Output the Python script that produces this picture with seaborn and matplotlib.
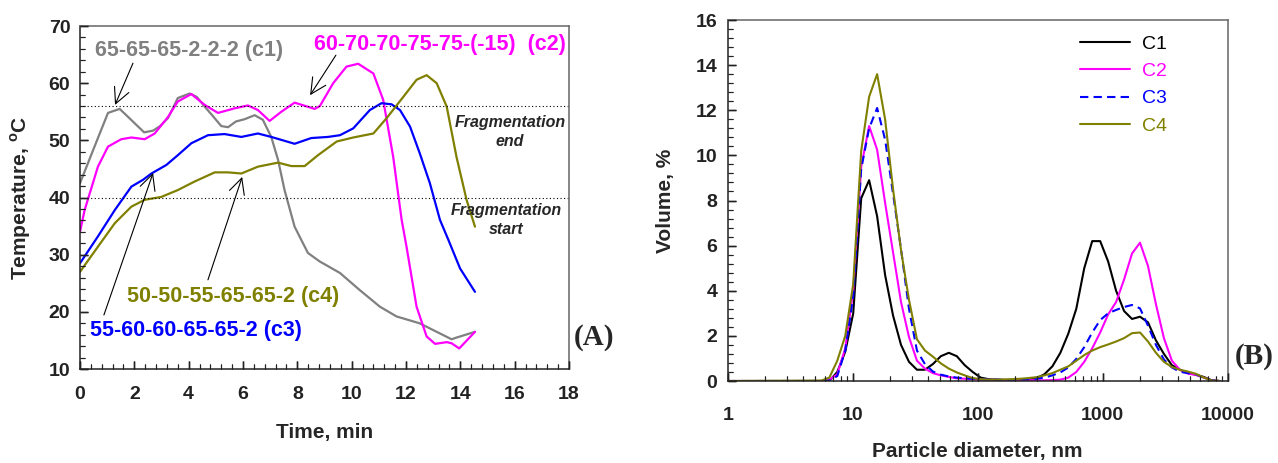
import matplotlib
matplotlib.use('Agg')
import matplotlib.pyplot as plt
from matplotlib.ticker import MultipleLocator, LogLocator, NullFormatter
import seaborn as sns

sns.set_style('ticks')
plt.rcParams['font.family'] = ['Liberation Sans', 'DejaVu Sans']
plt.rcParams['font.weight'] = 'bold'
plt.rcParams['mathtext.fontset'] = 'custom'
plt.rcParams['mathtext.rm'] = 'Liberation Sans:bold'
plt.rcParams['mathtext.bf'] = 'Liberation Sans:bold'
for a in ('xtick', 'ytick'):
    plt.rcParams[f'{a}.direction'] = 'in'
    plt.rcParams[f'{a}.major.size'] = 6
    plt.rcParams[f'{a}.major.width'] = 1
    plt.rcParams[f'{a}.minor.size'] = 3.5
    plt.rcParams[f'{a}.minor.width'] = 0.8
    plt.rcParams[f'{a}.color'] = '#222222'
    plt.rcParams[f'{a}.labelsize'] = 14
plt.rcParams['axes.linewidth'] = 1.1
plt.rcParams['axes.edgecolor'] = '#222222'
plt.rc('lines', linewidth=1.6)

# ---- panel A: temperature profiles ----
t_c1 = [0, 0.5, 1.03, 1.46, 1.77, 2.36, 2.69, 2.95, 3.24, 3.6, 4.04, 4.3, 4.59, 4.9, 5.2, 5.45,
        5.74, 6.06, 6.43, 6.73, 7.04, 7.29, 7.53, 7.9, 8.39, 8.83, 9.57, 10.3, 11.04, 11.65,
        12.5, 13.68, 13.86, 14.54]
T_c1 = [42.5, 48.5, 54.8, 55.5, 54.1, 51.4, 51.7, 52.5, 53.9, 57.4, 58.2, 57.6, 55.9, 54.2, 52.5,
        52.3, 53.3, 53.7, 54.4, 53.6, 50.6, 46.6, 41.3, 34.9, 30.3, 28.8, 26.8, 23.8, 20.9, 19.2,
        18.0, 15.2, 15.5, 16.5]

t_c2 = [0, 0.17, 0.66, 1.03, 1.52, 1.89, 2.38, 2.75, 3.24, 3.6, 4.1, 4.59, 5.08, 5.69, 6.18,
        6.55, 6.98, 7.41, 7.9, 8.64, 8.83, 9.32, 9.81, 10.24, 10.8, 11.16, 11.53, 11.84, 12.02,
        12.39, 12.76, 13.07, 13.5, 13.68, 13.96, 14.54]
T_c2 = [34, 37.8, 45.4, 48.9, 50.2, 50.5, 50.2, 51.2, 54.1, 56.8, 58.1, 56.2, 54.8, 55.6, 56.1,
        55.3, 53.4, 55, 56.6, 55.5, 56.0, 60.0, 62.9, 63.4, 61.7, 57.1, 47.1, 36.1, 31.4,
        20.9, 15.7, 14.4, 14.7, 14.5, 13.6, 16.5]

t_c3 = [0, 0.66, 1.28, 1.89, 2.32, 2.63, 3.18, 3.6, 4.1, 4.71, 5.32, 5.94, 6.55, 7.04, 7.9,
        8.51, 9.13, 9.57, 10.06, 10.67, 11.1, 11.47, 11.78, 12.15, 12.51, 12.88, 13.25, 13.56,
        13.99, 14.54]
T_c3 = [28.5, 33.2, 37.8, 41.9, 43.1, 44.2, 45.7, 47.4, 49.5, 50.9, 51.1, 50.6, 51.2, 50.6, 49.4,
        50.4, 50.6, 50.9, 52.1, 55.3, 56.5, 56.3, 55.3, 52.4, 47.7, 42.5, 36.1, 32.6,
        27.6, 23.5]

t_c4 = [0, 0.66, 1.28, 1.89, 2.38, 2.99, 3.6, 4.22, 4.96, 5.45, 5.94, 6.55, 7.29, 7.78, 8.27,
        8.76, 9.45, 10.06, 10.8, 11.29, 11.9, 12.39, 12.76, 13.13, 13.5, 13.86, 14.23, 14.54]
T_c4 = [27, 31.4, 35.5, 38.4, 39.6, 40.1, 41.3, 42.8, 44.4, 44.4, 44.2, 45.4, 46.1, 45.5, 45.5,
        47.4, 49.8, 50.5, 51.2, 53.9, 57.6, 60.6, 61.4, 60.0, 55.9, 47.1, 39.6, 34.9]

frag_end = 56
frag_start = 40

# ---- panel B: particle size distributions ----
diam = [1, 5.615, 6.503, 7.531, 8.721, 10.1, 11.7, 13.54, 15.69, 18.17, 21.04, 24.36, 28.21,
        32.67, 37.84, 43.82, 50.75, 58.77, 68.06, 78.82, 91.28, 105.7, 122.4, 141.8, 164.2,
        190.1, 220.2, 255.0, 295.3, 342.0, 396.1, 458.7, 531.2, 615.1, 712.4, 825.0, 955.4,
        1106, 1281, 1484, 1718, 1990, 2305, 2669, 3091, 3580, 4145, 4801, 5560, 6439, 7456, 8635]
vol_c1 = [0, 0, 0, 0.4, 1.3, 3.0, 8.1, 8.9, 7.3, 4.7, 2.9, 1.6, 0.85,
          0.5, 0.5, 0.75, 1.1, 1.25, 1.1, 0.7, 0.4, 0.15, 0.08, 0.06, 0.05,
          0.05, 0.05, 0.07, 0.12, 0.3, 0.65, 1.25, 2.1, 3.2, 5.0, 6.2, 6.2,
          5.3, 4.0, 3.1, 2.75, 2.85, 2.6, 1.8, 1.2, 0.7, 0.5, 0.35, 0.28, 0.18, 0.03, 0]
vol_c2 = [0, 0, 0.05, 0.3, 1.45, 4.0, 9.5, 11.3, 10.25, 7.9, 5.7, 3.5, 1.95,
          0.9, 0.55, 0.35, 0.25, 0.18, 0.12, 0.1, 0.08, 0.06, 0.05, 0.05, 0.04,
          0.04, 0.04, 0.04, 0.03, 0.03, 0.04, 0.06, 0.15, 0.4, 0.85, 1.45, 2.15,
          2.95, 3.5, 4.5, 5.65, 6.13, 5.1, 3.4, 1.9, 0.9, 0.5, 0.33, 0.27, 0.15, 0.02, 0]
vol_c3 = [0, 0, 0.02, 0.22, 1.35, 3.75, 9.4, 11.2, 12.1, 10.7, 8.3, 5.85, 3.2,
          1.35, 0.75, 0.42, 0.28, 0.2, 0.15, 0.12, 0.1, 0.08, 0.07, 0.06, 0.05,
          0.05, 0.06, 0.08, 0.1, 0.15, 0.25, 0.38, 0.6, 0.98, 1.5, 2.15, 2.7,
          3.0, 3.15, 3.28, 3.37, 3.22, 2.45, 1.6, 0.95, 0.6, 0.41, 0.35, 0.3, 0.15, 0.02, 0]
vol_c4 = [0, 0.02, 0.15, 0.9, 2.0, 4.3, 10.2, 12.6, 13.6, 11.6, 8.5, 5.8, 3.6,
          1.85, 1.35, 1.08, 0.78, 0.55, 0.38, 0.25, 0.13, 0.08, 0.06, 0.06, 0.07,
          0.08, 0.1, 0.13, 0.17, 0.25, 0.35, 0.5, 0.65, 0.9, 1.15, 1.35, 1.5,
          1.62, 1.75, 1.9, 2.12, 2.15, 1.75, 1.25, 0.85, 0.62, 0.5, 0.42, 0.32, 0.15, 0.02, 0]

GRAY, MAG, BLUE, OLIVE = '#808080', '#ff00ff', '#0000ff', '#808000'


def inner_ticks(ax, major=6, minor=3.5):
    # tick marks drawn as plain segments at the locator positions, pointing inwards
    fig = ax.figure
    bb = ax.get_position()
    h_px = bb.height * fig.get_figheight() * fig.dpi
    w_px = bb.width * fig.get_figwidth() * fig.dpi
    x0, x1 = sorted(ax.get_xlim())
    y0, y1 = sorted(ax.get_ylim())
    for locs, ln, lw in [(ax.xaxis.get_majorticklocs(), major, 1.0),
                         (ax.xaxis.get_minorticklocs(), minor, 0.8)]:
        locs = [v for v in locs if x0 <= v <= x1]
        ax.vlines(locs, 0, ln / 72 * fig.dpi / h_px, transform=ax.get_xaxis_transform(),
                  colors='#222222', lw=lw, clip_on=False, zorder=3)
    for locs, ln, lw in [(ax.yaxis.get_majorticklocs(), major, 1.0),
                         (ax.yaxis.get_minorticklocs(), minor, 0.8)]:
        locs = [v for v in locs if y0 <= v <= y1]
        ax.hlines(locs, 0, ln / 72 * fig.dpi / w_px, transform=ax.get_yaxis_transform(),
                  colors='#222222', lw=lw, clip_on=False, zorder=3)
    ax.set_xlim(x0, x1)
    ax.set_ylim(y0, y1)


fig = plt.figure(figsize=(12.78, 4.63), dpi=100)

# ================= panel A =================
ax1 = fig.add_axes([0.0626, 0.203, 0.3826, 0.7408])
for t, T, col in [(t_c1, T_c1, GRAY), (t_c2, T_c2, MAG), (t_c3, T_c3, BLUE), (t_c4, T_c4, OLIVE)]:
    sns.lineplot(x=t, y=T, ax=ax1, color=col, lw=1.6, estimator=None, sort=False, legend=False)
ax1.axhline(frag_end, color='black', ls=(0, (1, 2.2)), lw=0.8)
ax1.axhline(frag_start, color='black', ls=(0, (1, 2.2)), lw=0.8)
ax1.set_xlim(0, 18)
ax1.set_ylim(10, 70)
ax1.xaxis.set_major_locator(MultipleLocator(2))
ax1.xaxis.set_minor_locator(MultipleLocator(0.4))
ax1.yaxis.set_major_locator(MultipleLocator(10))
ax1.yaxis.set_minor_locator(MultipleLocator(2))
ax1.tick_params(axis='x', which='major', pad=12)
ax1.tick_params(axis='y', which='major', pad=7)
ax1.set_xlabel('Time, min', fontsize=15, fontweight='bold')
ax1.set_ylabel(r'Temperature, $^{\mathbf{o}}$C', fontsize=15, fontweight='bold')
ax1.xaxis.set_label_coords(0.5, -0.157)
ax1.yaxis.set_label_coords(-0.096, 0.5)

lab_kw = dict(fontsize=15.5, fontweight='bold', va='center', ha='left')
ax1.text(0.55, 65.8, '65-65-65-2-2-2 (c1)', color=GRAY, **lab_kw)
ax1.text(8.61, 66.7, '60-70-70-75-75-(-15)  (c2)', color=MAG, **lab_kw)
ax1.text(0.36, 16.8, '55-60-60-65-65-2 (c3)', color=BLUE, **lab_kw)
ax1.text(1.73, 22.6, '50-50-55-65-65-2 (c4)', color=OLIVE, **lab_kw)
arrow = dict(arrowstyle='->', color='black', lw=0.8, mutation_scale=28, shrinkA=0, shrinkB=0)
for start, end in [((1.95, 63.5), (1.29, 56.2)), ((9.42, 64.9), (8.47, 57.9)),
                   ((0.88, 19.45), (2.69, 44.3)), ((4.71, 25.6), (5.97, 43.6))]:
    ax1.annotate('', xy=end, xytext=start, arrowprops=arrow)
ax1.text(15.83, 51.4, 'Fragmentation\nend', fontsize=11.5, fontweight='bold', style='italic',
         ha='center', va='center', linespacing=1.35)
ax1.text(15.7, 36.0, 'Fragmentation\nstart', fontsize=11.5, fontweight='bold', style='italic',
         ha='center', va='center', linespacing=1.35)

# ================= panel B =================
ax2 = fig.add_axes([0.5694, 0.1771, 0.3912, 0.7797])
sns.lineplot(x=diam, y=vol_c1, ax=ax2, color='black', lw=1.5, label='C1', estimator=None)
sns.lineplot(x=diam, y=vol_c2, ax=ax2, color=MAG, lw=1.5, label='C2', estimator=None)
sns.lineplot(x=diam, y=vol_c3, ax=ax2, color=BLUE, lw=1.5, label='C3', estimator=None,
             dashes=False, linestyle=(0, (4, 2.5)))
sns.lineplot(x=diam, y=vol_c4, ax=ax2, color=OLIVE, lw=1.5, label='C4', estimator=None)
ax2.set_xscale('log')
ax2.set_xlim(1, 10000)
ax2.set_ylim(0, 16)
ax2.set_xticks([1, 10, 100, 1000, 10000])
ax2.set_xticklabels(['1', '10', '100', '1000', '10000'])
ax2.xaxis.set_minor_locator(LogLocator(base=10, subs=range(2, 10)))
ax2.xaxis.set_minor_formatter(NullFormatter())
ax2.yaxis.set_major_locator(MultipleLocator(2))
ax2.yaxis.set_minor_locator(MultipleLocator(0.4))
ax2.tick_params(axis='x', which='major', pad=19)
ax2.tick_params(axis='y', which='major', pad=7.5)
ax2.set_xlabel('Particle diameter, nm', fontsize=15, fontweight='bold')
ax2.set_ylabel('Volume, %', fontsize=15, fontweight='bold')
ax2.xaxis.set_label_coords(0.5, -0.168)
ax2.yaxis.set_label_coords(-0.105, 0.5)
ax2.legend(loc='upper left', bbox_to_anchor=(0.685, 0.985), frameon=False, borderpad=0,
           handlelength=2.6, handletextpad=0.6, labelspacing=0.5,
           prop={'size': 14, 'weight': 'normal'}, labelcolor='linecolor')

for ax in (ax1, ax2):
    ax.tick_params(axis='both', which='both', direction='in', bottom=True, left=True,
                   top=False, right=False)
    ax.set_axisbelow(False)
    ax.spines['top'].set_edgecolor('#666666')
    ax.spines['right'].set_edgecolor('#666666')
    inner_ticks(ax)

fig.text(0.465, 0.272, '(A)', family='Liberation Serif', fontsize=21, fontweight='bold',
         ha='center', va='center')
fig.text(0.981, 0.231, '(B)', family='Liberation Serif', fontsize=21, fontweight='bold',
         ha='center', va='center')

plt.savefig('out.png', dpi=100)
